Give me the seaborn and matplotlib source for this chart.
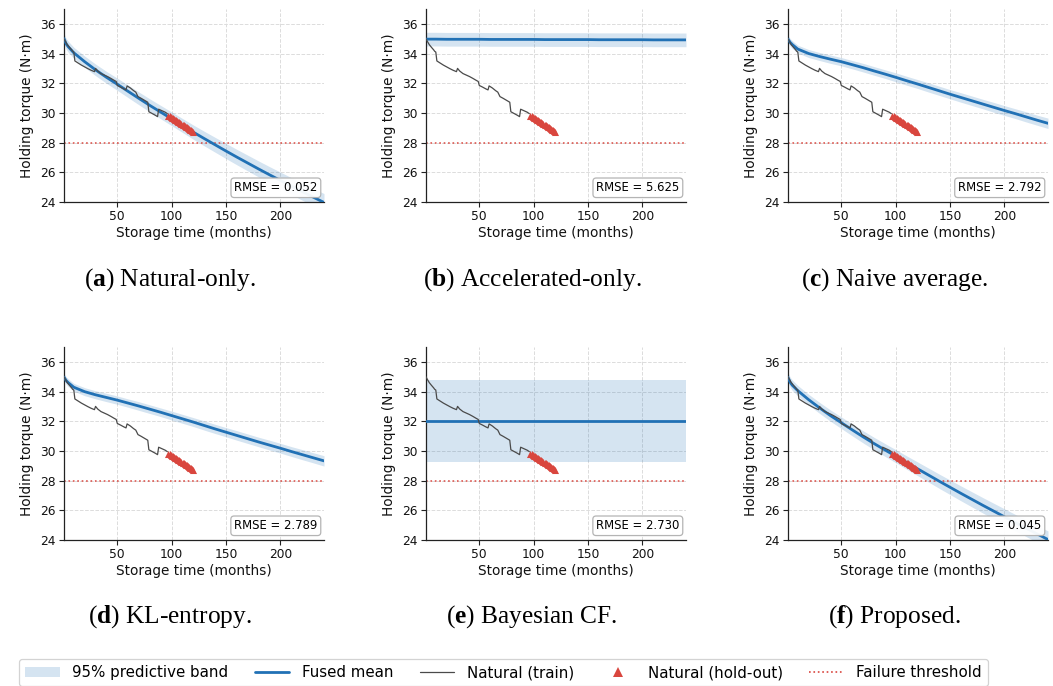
import matplotlib
matplotlib.use("Agg")
import matplotlib.pyplot as plt
import numpy as np
import seaborn as sns
from matplotlib.patches import Patch
from matplotlib.lines import Line2D

# ---------------------------------------------------------------- data
# evaluation grid (months) for the fused model curves
grid_months = [1, 3, 5, 10, 20, 30, 40, 50, 60, 70, 80, 90, 100, 110, 120,
               130, 140, 150, 160, 170, 180, 190, 200, 210, 220, 230, 240]

# fused mean of each method (N·m)
mean_natural = [35.00, 34.65, 34.45, 34.05, 33.45, 32.90, 32.40, 31.93, 31.45,
                30.97, 30.50, 30.05, 29.60, 29.15, 28.70, 28.27, 27.85, 27.43,
                27.02, 26.62, 26.22, 25.83, 25.45, 25.07, 24.70, 24.33, 23.97]
mean_accel = [34.97, 34.97, 34.97, 34.97, 34.96, 34.96, 34.96, 34.96, 34.95,
              34.95, 34.95, 34.95, 34.95, 34.94, 34.94, 34.94, 34.94, 34.94,
              34.93, 34.93, 34.93, 34.93, 34.93, 34.92, 34.92, 34.92, 34.92]
mean_naive = [34.97, 34.75, 34.60, 34.30, 34.00, 33.80, 33.62, 33.45, 33.25,
              33.05, 32.83, 32.62, 32.40, 32.17, 31.95, 31.72, 31.49, 31.26,
              31.04, 30.82, 30.60, 30.38, 30.16, 29.95, 29.73, 29.51, 29.30]
mean_kl = [34.97, 34.74, 34.59, 34.29, 33.99, 33.78, 33.60, 33.42, 33.22,
           33.02, 32.81, 32.60, 32.38, 32.16, 31.94, 31.71, 31.48, 31.26,
           31.04, 30.82, 30.60, 30.39, 30.18, 29.96, 29.75, 29.54, 29.33]
mean_bayes = [32.00] * 27
mean_proposed = [34.95, 34.62, 34.42, 34.06, 33.45, 32.90, 32.38, 31.90, 31.42,
                 30.95, 30.50, 30.07, 29.65, 29.22, 28.80, 28.38, 27.96, 27.55,
                 27.14, 26.74, 26.34, 25.95, 25.56, 25.17, 24.79, 24.41, 24.03]

# half-width of the 95% predictive band
hw_natural = [0.36, 0.36, 0.37, 0.37, 0.38, 0.39, 0.40, 0.41, 0.42, 0.43, 0.44,
              0.45, 0.46, 0.47, 0.48, 0.49, 0.50, 0.51, 0.52, 0.53, 0.54, 0.55,
              0.56, 0.57, 0.58, 0.59, 0.60]
hw_accel = [0.46] * 27
hw_naive = [0.25, 0.25, 0.26, 0.26, 0.27, 0.27, 0.28, 0.28, 0.28, 0.29, 0.29,
            0.29, 0.30, 0.30, 0.30, 0.31, 0.31, 0.31, 0.32, 0.32, 0.32, 0.33,
            0.33, 0.33, 0.34, 0.34, 0.35]
hw_kl = hw_naive
hw_bayes = [2.75] * 27
hw_proposed = [0.34, 0.34, 0.35, 0.35, 0.36, 0.37, 0.38, 0.39, 0.40, 0.41, 0.42,
               0.43, 0.44, 0.45, 0.46, 0.47, 0.48, 0.49, 0.50, 0.51, 0.52, 0.53,
               0.54, 0.55, 0.56, 0.57, 0.58]

# natural storage measurements used for training
train_months = [1, 2, 4, 6, 8, 9, 10, 11, 14, 17, 20, 23, 26, 29, 30, 32, 35, 38,
                41, 44, 47, 49, 50, 53, 56, 58, 59, 62, 65, 67, 69, 72, 75, 78,
                79, 82, 85, 87, 88, 91, 94, 96]
train_torque = [35.00, 34.85, 34.60, 34.42, 34.25, 34.15, 34.10, 33.50, 33.36,
                33.22, 33.10, 32.98, 32.87, 32.78, 33.00, 32.82, 32.65, 32.55,
                32.45, 32.33, 32.20, 32.12, 31.85, 31.74, 31.62, 31.55, 31.82,
                31.68, 31.50, 31.40, 31.10, 30.98, 30.85, 30.72, 30.08, 29.96,
                29.84, 29.75, 30.25, 30.15, 30.05, 29.95]

# natural storage measurements held out for validation
holdout_months = [97, 98, 99, 100, 101, 102, 103, 104, 105, 106, 107, 108,
                  109, 110, 111, 112, 113, 114, 115, 116, 117, 118, 119, 120]
holdout_torque = [29.82, 29.76, 29.74, 29.68, 29.63, 29.60, 29.55, 29.50,
                  29.47, 29.41, 29.37, 29.30, 29.27, 29.22, 29.17, 29.13,
                  29.08, 29.02, 28.98, 28.93, 28.88, 28.83, 28.79, 28.73]

failure_threshold = 28.0

panel_letters = ["a", "b", "c", "d", "e", "f"]
panel_titles = ["Natural-only.", "Accelerated-only.", "Naive average.",
                "KL-entropy.", "Bayesian CF.", "Proposed."]
panel_means = [mean_natural, mean_accel, mean_naive, mean_kl, mean_bayes, mean_proposed]
panel_hw = [hw_natural, hw_accel, hw_naive, hw_kl, hw_bayes, hw_proposed]
panel_rmse = [0.052, 5.625, 2.792, 2.789, 2.730, 0.045]

# ---------------------------------------------------------------- style
sns.set_theme(style="ticks")
plt.rcParams["font.family"] = ["DejaVu Sans"]
plt.rcParams["text.color"] = "black"
plt.rcParams["axes.labelcolor"] = "#111111"
plt.rcParams["mathtext.fontset"] = "custom"
plt.rcParams["mathtext.rm"] = "Liberation Serif"
plt.rcParams["mathtext.bf"] = "Liberation Serif:bold"

BLUE = "#2171b5"
RED = "#d9463e"
GRAY = "#4a4a4a"

W, H = 1053, 686
fig = plt.figure(figsize=(W / 100, H / 100), dpi=100)

col_left = [64, 426, 788]
ax_w = 260
row_top = [9, 347]
ax_h = 193
caption_y = [280, 617]

g = np.array(grid_months, dtype=float)

for i in range(6):
    r, c = divmod(i, 3)
    left = col_left[c]
    top = row_top[r]
    ax = fig.add_axes([left / W, 1 - (top + ax_h) / H, ax_w / W, ax_h / H])

    m = np.array(panel_means[i])
    hw = np.array(panel_hw[i])
    ax.fill_between(g, m - hw, m + hw, color=BLUE, alpha=0.19, linewidth=0, zorder=1)
    sns.lineplot(x=grid_months, y=panel_means[i], ax=ax, color=BLUE,
                 linewidth=2.0, zorder=3)
    sns.lineplot(x=train_months, y=train_torque, ax=ax, color=GRAY,
                 linewidth=0.9, zorder=4)
    sns.scatterplot(x=holdout_months, y=holdout_torque, ax=ax, marker="^",
                    color=RED, s=26, linewidth=0, zorder=5)
    ax.axhline(failure_threshold, color=RED, linestyle=":", linewidth=1.2,
               alpha=0.9, zorder=2)

    ax.set_xlim(1, 240)
    ax.set_ylim(24, 37)
    ax.set_xticks([50, 100, 150, 200])
    ax.set_yticks([24, 26, 28, 30, 32, 34, 36])
    ax.grid(True, linestyle="--", color="#dcdcdc", linewidth=0.7)
    ax.set_axisbelow(True)
    sns.despine(ax=ax)
    for s in ("left", "bottom"):
        ax.spines[s].set_linewidth(0.9)
        ax.spines[s].set_color("#222222")
    ax.tick_params(labelsize=8.8, length=3.5, width=0.8, pad=2.5,
                   colors="#222222", labelcolor="#111111")
    ax.set_xlabel("Storage time (months)", fontsize=9.8, labelpad=2)
    ax.set_ylabel("Holding torque (N·m)", fontsize=9.8, labelpad=4)

    ax.text(0.975, 0.04, f"RMSE = {panel_rmse[i]:.3f}", transform=ax.transAxes,
            ha="right", va="bottom", fontsize=8.4, zorder=10,
            bbox=dict(boxstyle="round,pad=0.28", facecolor="white",
                      edgecolor="#b0b0b0", linewidth=0.9, alpha=0.95))

    cx = left + ax_w / 2 - 24
    fig.text(cx / W, 1 - caption_y[r] / H,
             "(" + r"$\mathbf{" + panel_letters[i] + "}$" + ") " + panel_titles[i],
             ha="center", va="center", fontsize=18.3, family="Liberation Serif",
             color="black")

handles = [
    Patch(facecolor=BLUE, alpha=0.19, edgecolor="none"),
    Line2D([], [], color=BLUE, linewidth=2.0),
    Line2D([], [], color=GRAY, linewidth=0.9),
    Line2D([], [], color=RED, marker="^", linestyle="none", markersize=6.5,
           markeredgewidth=0),
    Line2D([], [], color=RED, linestyle=":", linewidth=1.2),
]
labels = ["95% predictive band", "Fused mean", "Natural (train)",
          "Natural (hold-out)", "Failure threshold"]
leg = fig.legend(handles, labels, loc="upper left",
                 bbox_to_anchor=(19 / W, 1 - 659 / H), ncol=5, fontsize=10.8,
                 frameon=True, fancybox=True, handlelength=2.3,
                 handletextpad=0.85, columnspacing=1.75, borderaxespad=0,
                 borderpad=0.4)
leg.get_frame().set_edgecolor("#c8c8c8")
leg.get_frame().set_linewidth(0.9)

fig.savefig("out.png", dpi=100)
